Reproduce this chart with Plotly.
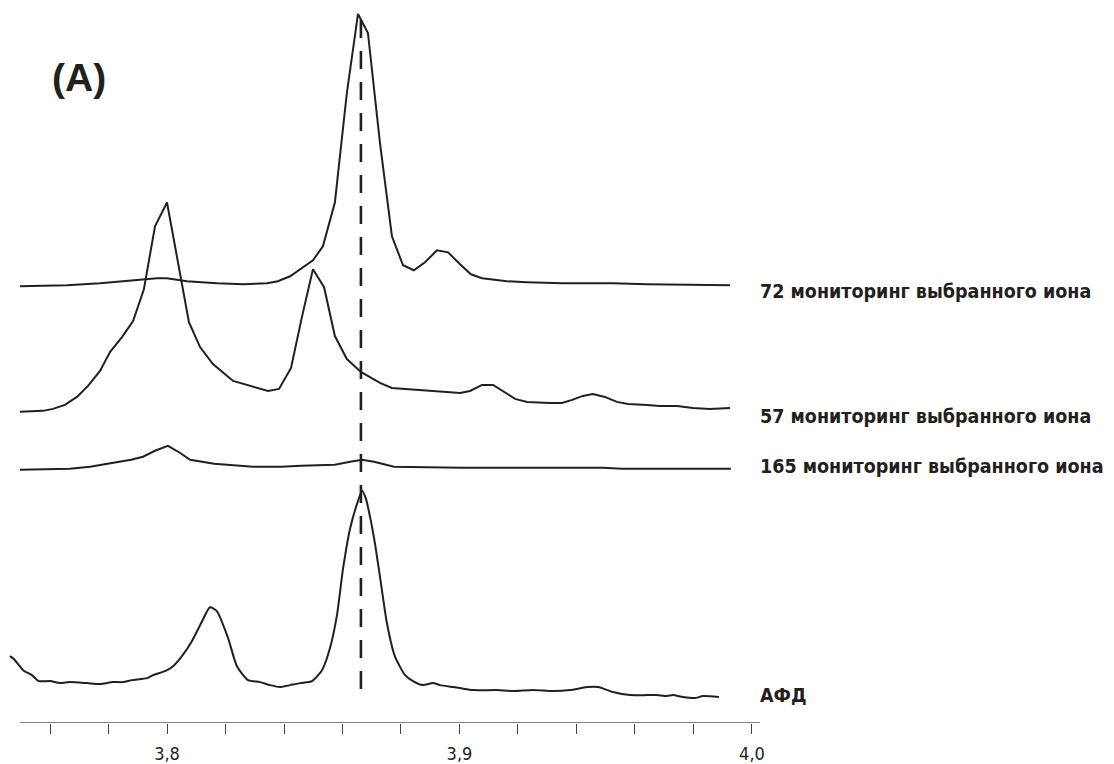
import plotly.graph_objects as go

INK = "#231f20"
FONT = "Liberation Sans Narrow, DejaVu Sans Condensed, Arial Narrow, sans-serif"

# retention time (min) and signal (arbitrary units) for each trace
t72 = [3.7497, 3.7658, 3.7771, 3.7884, 3.7966, 3.8000, 3.8068, 3.8171, 3.8260, 3.8342,
       3.8379, 3.8421, 3.8499, 3.8533, 3.8574, 3.8615, 3.8653, 3.8687, 3.8728, 3.8769,
       3.8807, 3.8844, 3.8882, 3.8923, 3.8961, 3.9002, 3.9039, 3.9077, 3.9162, 3.9231,
       3.9354, 3.9525, 3.9641, 3.9925]
s72 = [-1, 0, 2, 5, 7, 7, 4, 2, 1, 2,
       4, 9, 25, 39, 83, 193, 272, 253, 143, 49,
       20, 15, 23, 35, 33, 21, 11, 7, 4, 3,
       2, 2, 1, 0]

t57 = [3.7497, 3.7576, 3.7610, 3.7651, 3.7692, 3.7730, 3.7771, 3.7805, 3.7846, 3.7884,
       3.7921, 3.7959, 3.8000, 3.8034, 3.8075, 3.8113, 3.8157, 3.8226, 3.8294, 3.8345,
       3.8383, 3.8424, 3.8462, 3.8499, 3.8537, 3.8574, 3.8615, 3.8663, 3.8728, 3.8769,
       3.9002, 3.9036, 3.9077, 3.9115, 3.9190, 3.9231, 3.9309, 3.9350, 3.9385, 3.9422,
       3.9456, 3.9497, 3.9538, 3.9576, 3.9641, 3.9685, 3.9744, 3.9798, 3.9856, 3.9925]
s57 = [-1, 0, 2, 6, 14, 25, 40, 59, 74, 90,
       122, 185, 209, 155, 89, 64, 47, 30, 24, 20,
       22, 43, 95, 142, 124, 75, 52, 39, 28, 23,
       18, 20, 26, 26, 12, 9, 8, 8, 11, 15,
       17, 14, 9, 7, 6, 5, 5, 3, 2, 3]

t165 = [3.7497, 3.7668, 3.7737, 3.7829, 3.7877, 3.7918, 3.7959, 3.8003, 3.8044, 3.8079,
        3.8161, 3.8294, 3.8393, 3.8458, 3.8574, 3.8626, 3.8667, 3.8708, 3.8776, 3.9009,
        3.9422, 3.9491, 3.9556, 3.9928]
s165 = [-1, 0, 2, 7, 9, 12, 18, 23, 16, 9,
        5, 2, 2, 3, 4, 7, 9, 7, 2, 1,
        1, 1, 0, 0]

tafd = [3.7463, 3.7477, 3.7508, 3.7538, 3.7562, 3.7600, 3.7634, 3.7668, 3.7726, 3.7771,
        3.7815, 3.7850, 3.7880, 3.7932, 3.7952, 3.7993, 3.8021, 3.8051, 3.8085, 3.8120,
        3.8147, 3.8171, 3.8209, 3.8239, 3.8277, 3.8318, 3.8352, 3.8386, 3.8421, 3.8455,
        3.8496, 3.8530, 3.8557, 3.8581, 3.8602, 3.8626, 3.8650, 3.8667, 3.8680, 3.8694,
        3.8711, 3.8728, 3.8752, 3.8779, 3.8814, 3.8841, 3.8875, 3.8909, 3.8933, 3.8978,
        3.9002, 3.9046, 3.9128, 3.9183, 3.9251, 3.9320, 3.9378, 3.9436, 3.9474, 3.9525,
        3.9583, 3.9641, 3.9675, 3.9709, 3.9730, 3.9764, 3.9805, 3.9832, 3.9887]
safd = [28, 25, 14, 9, 3, 3, 1, 2, 1, 0,
        2, 2, 4, 6, 9, 13, 18, 28, 43, 63,
        77, 73, 46, 18, 4, 2, -1, -3, -1, 1,
        3, 14, 36, 69, 116, 156, 181, 194, 186, 168,
        141, 108, 61, 28, 9, 3, -1, 1, -1, -3,
        -4, -6, -6, -7, -6, -7, -6, -3, -3, -8,
        -11, -11, -11, -12, -11, -13, -14, -12, -13]

# vertical stacking offsets for the four traces
offsets = [439, 313, 255, 39]
labels = ["72 мониторинг выбранного иона", "57 мониторинг выбранного иона",
          "165 мониторинг выбранного иона", "АФД"]
label_y = [433, 307, 257, 28]

marker_time = 3.8663
marker_span = [28, 705]

tick_vals = [3.8, 3.9, 4.0]
tick_text = ["3,8", "3,9", "4,0"]
minor_vals = [3.76, 3.78, 3.82, 3.84, 3.86, 3.88, 3.92, 3.94, 3.96, 3.98]

fig = go.Figure()
series = [(t72, s72, "linear"), (t57, s57, "linear"), (t165, s165, "linear"), (tafd, safd, "spline")]
for (tt, ss, shape), off in zip(series, offsets):
    fig.add_trace(go.Scatter(x=tt, y=[v + off for v in ss], mode="lines",
                             line=dict(color=INK, width=2, shape=shape, smoothing=0.6),
                             hoverinfo="skip"))

fig.add_trace(go.Scatter(x=[marker_time, marker_time], y=[marker_span[1], marker_span[0]],
                         mode="lines", line=dict(color=INK, width=2.6, dash="18px,13px"),
                         hoverinfo="skip"))

# axis baseline
fig.add_shape(type="line", xref="x", yref="y", x0=3.7497, x1=4.0027, y0=0, y1=0,
              line=dict(color="#555555", width=1.5))

for txt, yy in zip(labels, label_y):
    fig.add_annotation(x=4.0, y=yy, xref="x", yref="y", text="<b>" + txt + "</b>",
                       showarrow=False, xanchor="left", yanchor="middle", xshift=6,
                       font=dict(family=FONT, size=19.5, color=INK))

fig.add_annotation(x=3.7600, y=647, xref="x", yref="y", text="<b>(A)</b>",
                   showarrow=False, xanchor="left", yanchor="middle",
                   font=dict(family="Liberation Sans, Arial, sans-serif", size=39, color=INK))

fig.update_layout(
    width=1106, height=756,
    margin=dict(l=0, r=354, t=0, b=39),
    paper_bgcolor="white", plot_bgcolor="white",
    showlegend=False,
    xaxis=dict(range=[3.74564, 4.00274], showgrid=False, zeroline=False, showline=False,
               tickmode="array", tickvals=tick_vals, ticktext=tick_text,
               ticks="outside", ticklen=10, tickwidth=1.3, tickcolor="#444444",
               ticklabelstandoff=4,
               tickfont=dict(family=FONT, size=18, color=INK),
               minor=dict(tickmode="array", tickvals=minor_vals, ticks="outside",
                          ticklen=10, tickwidth=1.3, tickcolor="#444444")),
    yaxis=dict(range=[0, 717], visible=False),
)

fig.write_html("out.html")
